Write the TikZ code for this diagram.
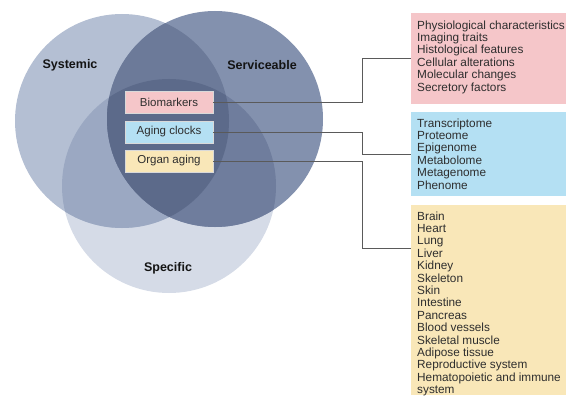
\documentclass[tikz,border=0pt]{standalone}
\usepackage{fontspec}
\setmainfont{Liberation Sans}
\definecolor{cSys}{HTML}{B4BFD3}
\definecolor{cSer}{HTML}{8391AE}
\definecolor{cSpe}{HTML}{D5DBE7}
\definecolor{cSysSpe}{HTML}{9BA8C2}
\definecolor{cSerSpe}{HTML}{6F7D9D}
\definecolor{cSysSer}{HTML}{6C7A99}
\definecolor{cAll}{HTML}{5C6A8A}
\definecolor{pinkF}{HTML}{F5C6C9}
\definecolor{blueF}{HTML}{B4E0F3}
\definecolor{yelF}{HTML}{F9E7B8}
\definecolor{txt}{HTML}{2E2E2E}
\definecolor{lineC}{HTML}{5A5A5A}
\begin{document}
\begin{tikzpicture}[x=1pt,y=-1pt,
  vlabel/.style={font=\fontsize{12.5}{14}\selectfont\bfseries, text=black!92},
  cbox/.style={draw=white!85!black, line width=0.5pt, minimum width=88pt, minimum height=22pt, inner sep=0pt, text=txt, font=\fontsize{11.5}{13}\selectfont},
  rbox/.style={anchor=north west, inner sep=0pt, minimum width=160pt},
  rlist/.style={anchor=north west, align=left, inner sep=0pt, text=txt, font=\fontsize{11.8}{12.4}\selectfont},
  conn/.style={draw=lineC, line width=0.7pt}]
\useasboundingbox (0,0) rectangle (566,396);
\def\sysC{(122,121) circle (107pt)}
\def\serC{(215,119) circle (108pt)}
\def\speC{(169,186) circle (107pt)}
\fill[cSpe] \speC;
\fill[cSys] \sysC;
\fill[cSer] \serC;
\begin{scope}\clip \sysC; \fill[cSysSpe] \speC; \end{scope}
\begin{scope}\clip \serC; \fill[cSerSpe] \speC; \end{scope}
\begin{scope}\clip \sysC; \fill[cSysSer] \serC; \end{scope}
\begin{scope}\clip \sysC; \clip \serC; \fill[cAll] \speC; \end{scope}
\node[vlabel] (sys) at (70,65) {Systemic};
\node[vlabel] (ser) at (262,65) {Serviceable};
\node[vlabel] (spe) at (168,268) {Specific};
\node[cbox, fill=pinkF] (bio) at (169,102) {Biomarkers};
\node[cbox, fill=blueF] (clk) at (169,132) {Aging clocks};
\node[cbox, fill=yelF] (org) at (169,161) {Organ aging};
\node[rbox, fill=pinkF, minimum height=91pt] (pbox) at (411,13) {};
\node[rbox, fill=blueF, minimum height=84pt] (bbox) at (411,112) {};
\node[rbox, fill=yelF, minimum height=190pt] (ybox) at (411,205) {};
\coordinate (yin) at (411,248);
\node[rlist] (plist) at (417,20.3) {Physiological characteristics\\Imaging traits\\Histological features\\Cellular alterations\\Molecular changes\\Secretory factors};
\node[rlist] (blist) at (417,118.3) {Transcriptome\\Proteome\\Epigenome\\Metabolome\\Metagenome\\Phenome};
\node[rlist] (ylist) at (417,211.3) {Brain\\Heart\\Lung\\Liver\\Kidney\\Skeleton\\Skin\\Intestine\\Pancreas\\Blood vessels\\Skeletal muscle\\Adipose tissue\\Reproductive system\\Hematopoietic and immune\\system};
\draw[conn] (bio.east) -- ++(149,0) |- (pbox.west);
\draw[conn] (clk.east) -- ++(149,0) |- (bbox.west);
\draw[conn] (org.east) -- ++(149,0) |- (yin);
\end{tikzpicture}
\end{document}
